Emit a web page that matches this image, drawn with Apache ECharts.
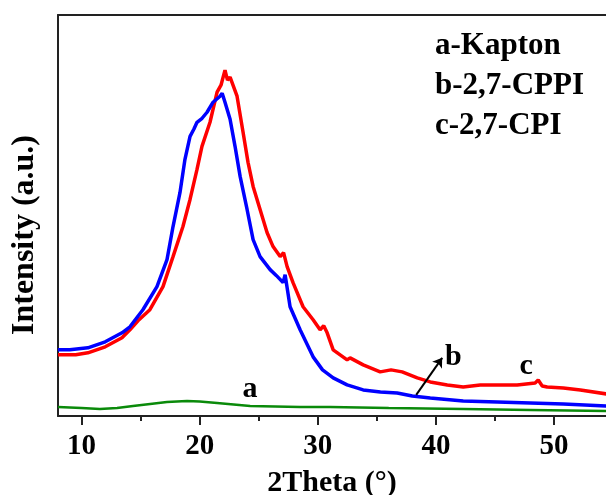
<!DOCTYPE html>
<html><head><meta charset="utf-8">
<script src="https://cdn.jsdelivr.net/npm/echarts@6/dist/echarts.min.js"></script>
<style>html,body{margin:0;padding:0;background:#fff}#c{width:606px;height:495px}</style>
</head><body><div id="c"></div>
<script>
const majorTicks = [10, 20, 30, 40, 50];
const minorTicks = [15, 25, 35, 45];
const seriesNames = ['a-Kapton', 'b-2,7-CPPI', 'c-2,7-CPI'];
const kapton = [[8.0,9],[10.0,8],[11.55,7],[13.0,8],[14.35,10],[15.8,12],[17.23,14],[18.92,15],[20.0,14.5],[21.47,13],[24.27,10],[28.5,9],[31.04,9],[36.0,8],[42.31,7],[48.0,6],[54.43,5]];
const cppi = [[7.99,66],[9.0,66],[10.53,68],[12.0,74],[13.42,83],[14.09,89],[15.19,106],[16.38,129],[17.23,156],[17.74,189],[18.33,223],[18.75,256],[19.18,279],[19.5,286],[19.77,293],[20.2,297],[20.62,303],[21.13,313],[21.72,319],[21.9,322],[22.14,313],[22.57,296],[22.99,269],[23.42,239],[24.01,206],[24.52,176],[25.11,159],[25.96,146],[26.5,140],[27.06,133],[27.23,141],[27.65,109],[28.5,86],[29.6,59],[30.4,46],[31.3,38],[32.48,31],[33.84,26],[35.3,24],[36.72,23],[38.0,20],[39.52,18],[42.31,15],[45.19,14],[47.99,13],[50.79,12],[54.43,10]];
const cpi = [[8.0,61],[8.33,61],[9.5,61],[10.53,63],[12.0,69],[13.42,78],[14.09,86],[14.77,95],[15.78,106],[16.89,129],[17.74,159],[18.58,189],[19.18,216],[19.77,246],[20.19,269],[20.87,293],[21.47,323],[21.8,330],[22.14,345],[22.35,335],[22.57,338],[23.16,319],[23.67,283],[24.09,253],[24.52,229],[25.11,206],[25.7,183],[26.21,169],[26.81,159],[27.1,163],[27.4,149],[27.9,133],[28.75,109],[29.6,96],[30.19,86],[30.5,90],[30.79,83],[31.3,66],[32.48,56],[32.73,58],[33.84,51],[35.28,44],[36.2,46],[37.14,44],[38.42,38],[39.52,34],[40.96,31],[42.31,29],[43.75,31],[45.19,31],[46.88,31],[48.4,33],[48.66,36],[49.0,30],[49.42,29],[50.79,28],[52.23,26],[54.43,22]];
const curveLabels = [[24.26,27,'a'],[41.47,59,'b'],[47.65,50,'c']];
const arrow = [[38.33,21],[40.53,58]];

const font = '"Liberation Serif", "Times New Roman", serif';
const chart = echarts.init(document.getElementById('c'), null, {renderer: 'canvas'});
chart.setOption({
  backgroundColor: '#fff',
  animation: false,
  grid: {left: 58, top: 15, right: 0, bottom: 79, containLabel: false, outerBoundsMode: 'none'},
  xAxis: [{
    type: 'value', min: 8, max: 54.4,
    name: '2Theta (°)', nameLocation: 'middle', nameGap: 52,
    nameTextStyle: {fontFamily: font, fontWeight: 'bold', fontSize: 30, color: '#000'},
    axisLine: {show: true, onZero: false, lineStyle: {color: '#222', width: 2}},
    axisTick: {show: true, customValues: majorTicks, length: 9, inside: false, lineStyle: {color: '#222', width: 2}},
    axisLabel: {customValues: majorTicks, fontFamily: font, fontWeight: 'bold', fontSize: 29, color: '#000', margin: 16},
    splitLine: {show: false}
  }, {
    type: 'value', min: 8, max: 54.4, position: 'bottom',
    axisLine: {show: false},
    axisTick: {show: true, customValues: minorTicks, length: 5, lineStyle: {color: '#222', width: 2}},
    axisLabel: {show: false},
    splitLine: {show: false}
  }, {
    type: 'value', min: 8, max: 54.4, position: 'top',
    axisLine: {show: true, lineStyle: {color: '#222', width: 2}},
    axisTick: {show: false}, axisLabel: {show: false}, splitLine: {show: false}
  }],
  yAxis: {
    type: 'value', min: 0, max: 400,
    axisLine: {show: true, lineStyle: {color: '#222', width: 2}},
    axisTick: {show: false}, axisLabel: {show: false}, splitLine: {show: false}
  },
  series: [
    {name: seriesNames[0], type: 'line', data: kapton, showSymbol: false, symbol: 'none', lineStyle: {color: '#0a8a0a', width: 2.5}, z: 3},
    {name: seriesNames[2], type: 'line', data: cpi, showSymbol: false, symbol: 'none', lineStyle: {color: '#ff0000', width: 3.5}, z: 4},
    {name: seriesNames[1], type: 'line', data: cppi, showSymbol: false, symbol: 'none', lineStyle: {color: '#0000ff', width: 3.5}, z: 5},
    {type: 'lines', coordinateSystem: 'cartesian2d', z: 6, symbol: ['none', 'arrow'], symbolSize: 9,
     lineStyle: {color: '#000', width: 2, opacity: 1}, data: [{coords: arrow}]}
  ]
});
const graphics = [
  {type: 'text', id: 'leg0', left: 435, top: 30, style: {text: seriesNames[0], font: 'bold 31px ' + font, fill: '#000'}},
  {type: 'text', id: 'leg1', left: 435, top: 70, style: {text: seriesNames[1], font: 'bold 31px ' + font, fill: '#000'}},
  {type: 'text', id: 'leg2', left: 435, top: 110, style: {text: seriesNames[2], font: 'bold 31px ' + font, fill: '#000'}},
  {type: 'text', id: 'yname', x: 25, y: 235, rotation: Math.PI / 2, style: {text: 'Intensity (a.u.)', font: 'bold 32px ' + font, fill: '#000', align: 'center', verticalAlign: 'middle'}}
];
curveLabels.forEach(function (d, i) {
  const p = chart.convertToPixel({xAxisIndex: 0, yAxisIndex: 0}, [d[0], d[1]]);
  graphics.push({type: 'text', id: 'cl' + i, x: p[0], y: p[1], z: 100,
    style: {text: d[2], font: 'bold 30px ' + font, fill: '#000', align: 'center', verticalAlign: 'middle'}});
});
chart.setOption({graphic: graphics});
</script></body></html>
